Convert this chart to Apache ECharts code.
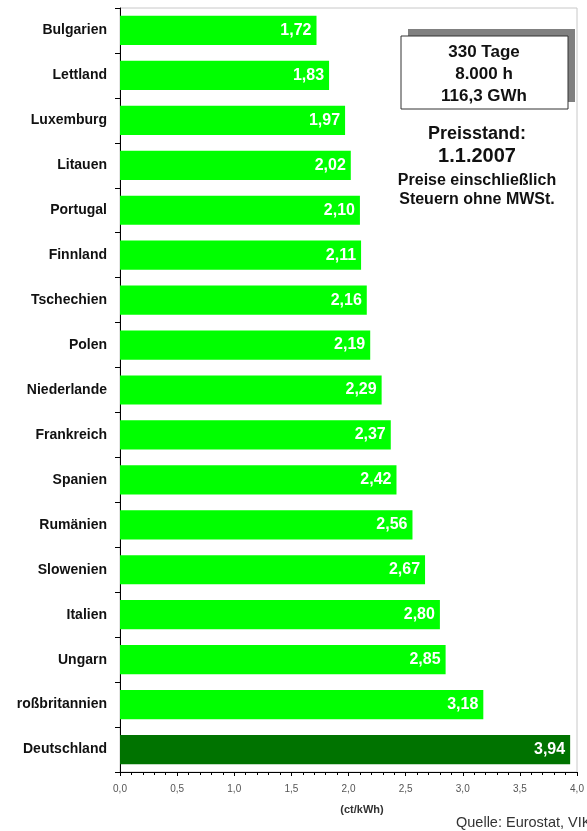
<!DOCTYPE html>
<html>
<head>
<meta charset="utf-8">
<script src="https://cdn.jsdelivr.net/npm/echarts@6/dist/echarts.min.js"></script>
<style>
html,body{margin:0;padding:0;background:#fff;}
#chart{width:587px;height:831px;}
</style>
</head>
<body>
<div id="chart"></div>
<script>
var countries = ['Bulgarien','Lettland','Luxemburg','Litauen','Portugal','Finnland','Tschechien','Polen','Niederlande','Frankreich','Spanien','Rumänien','Slowenien','Italien','Ungarn','roßbritannien','Deutschland'];
var prices = [1.72,1.83,1.97,2.02,2.10,2.11,2.16,2.19,2.29,2.37,2.42,2.56,2.67,2.80,2.85,3.18,3.94];
var highlight = 'Deutschland';
var xTicks = [0,0.5,1,1.5,2,2.5,3,3.5,4];
var boxLines = ['330 Tage','8.000 h','116,3 GWh'];
var noteLines = ['Preisstand:','1.1.2007','Preise einschließlich','Steuern ohne MWSt.'];
var unitLabel = '(ct/kWh)';
var sourceText = 'Quelle: Eurostat, VIK';

var FONT = '"Liberation Sans", Arial, sans-serif';
var chart = echarts.init(document.getElementById('chart'));

var barData = countries.map(function(c,i){
  return {value: prices[i], itemStyle:{color: c===highlight ? '#007300' : '#00ff00'}};
});

function txt(x,y,t,font,fill){
  return {type:'text',x:x,y:y,z:12,style:{text:t,font:font,fill:fill||'#111',textAlign:'center',textVerticalAlign:'middle'}};
}

chart.setOption({
  animation:false,
  backgroundColor:'#fff',
  grid:{left:120,right:10,top:8,bottom:59,show:true,borderColor:'#c8c8c8',borderWidth:1},
  xAxis:{
    type:'value',min:xTicks[0],max:xTicks[xTicks.length-1],interval:0.5,
    axisLine:{show:true,lineStyle:{color:'#000',width:1}},
    axisTick:{show:true,length:4,lineStyle:{color:'#000'}},
    minorTick:{show:true,splitNumber:5,length:3,lineStyle:{color:'#000'}},
    splitLine:{show:false},
    axisLabel:{margin:12,color:'#555',fontSize:10,fontFamily:FONT,
      formatter:function(v){return v.toFixed(1).replace('.',',');}}
  },
  yAxis:{
    type:'category',data:countries,inverse:true,
    axisLine:{show:true,lineStyle:{color:'#000',width:1}},
    axisTick:{show:true,length:5,lineStyle:{color:'#000'}},
    axisLabel:{margin:13,color:'#111',fontSize:14,fontWeight:'bold',fontFamily:FONT}
  },
  series:[{
    type:'bar',data:barData,barCategoryGap:'35%',
    label:{show:true,position:'insideRight',distance:5,color:'#fff',fontSize:16,fontWeight:'bold',fontFamily:FONT,
      formatter:function(p){return p.value.toFixed(2).replace('.',',');}}
  }],
  graphic:[
    {type:'rect',shape:{x:408,y:29,width:167,height:73},style:{fill:'#808080'},z:10},
    {type:'rect',shape:{x:401,y:36,width:167,height:73},style:{fill:'#fff',stroke:'#333',lineWidth:1},z:11},
    txt(484,52,boxLines[0],'bold 17px '+FONT),
    txt(484,74,boxLines[1],'bold 17px '+FONT),
    txt(484,96,boxLines[2],'bold 17px '+FONT),
    txt(477,134,noteLines[0],'bold 18px '+FONT),
    txt(477,156,noteLines[1],'bold 20px '+FONT),
    txt(477,181,noteLines[2],'bold 16px '+FONT),
    txt(477,200,noteLines[3],'bold 16px '+FONT),
    txt(362,810,unitLabel,'bold 11px '+FONT,'#333'),
    {type:'text',x:456,y:823,z:12,style:{text:sourceText,font:'14.5px '+FONT,fill:'#333',textAlign:'left',textVerticalAlign:'middle'}}
  ]
});
</script>
</body>
</html>
